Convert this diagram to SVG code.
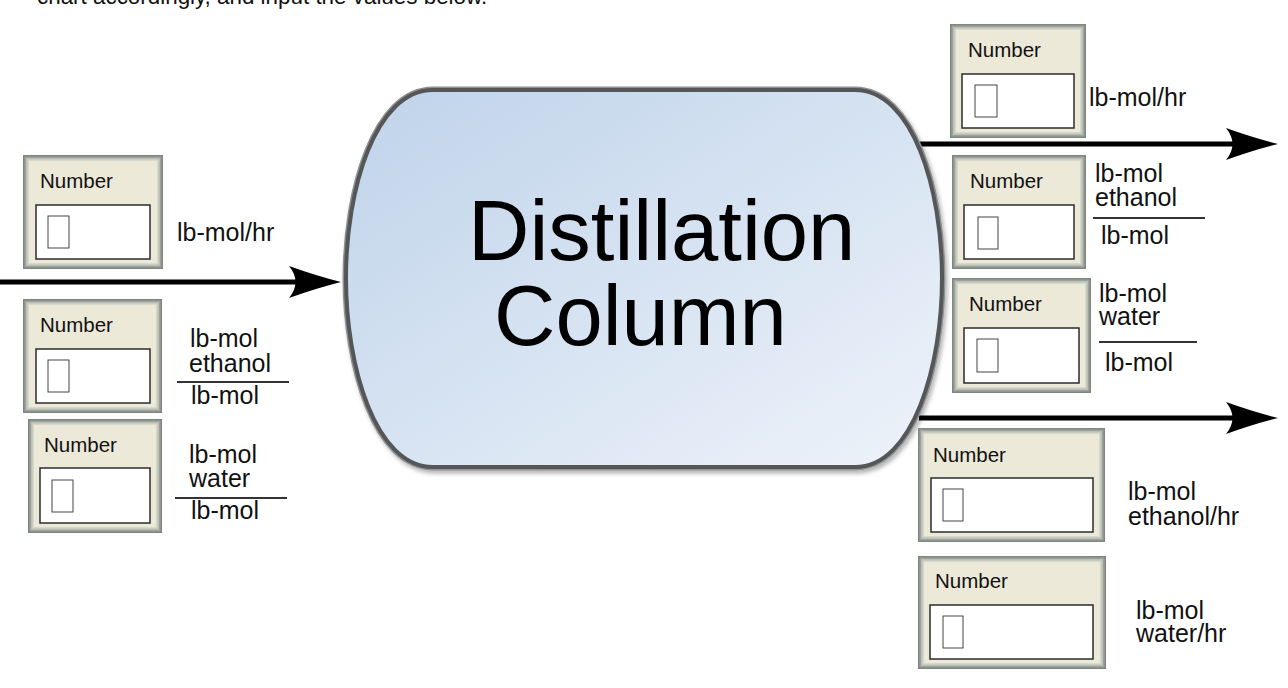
<svg xmlns="http://www.w3.org/2000/svg" width="1288" height="688" viewBox="0 0 1288 688">
  <style>
    text { font-family: "Liberation Sans", Arial, sans-serif; fill: #111; }
    .hdr { font-size: 22.4px; }
    .num { font-size: 20.5px; }
    .unit { font-size: 25px; }
    .big { font-size: 85px; fill: #000; }
    .f0 { fill: #7f867f; }
    .f1 { fill: #9ca39a; }
    .f2 { fill: #b9bfb5; }
    .f3 { fill: #d6d8cb; }
    .bg { fill: #ece9d8; }
    .inp { fill: #fff; stroke: #2b2b2b; stroke-width: 1.5; }
    .car { fill: #fff; stroke: #444; stroke-width: 1; }
    .bar { stroke: #333; stroke-width: 2; }
    .flow { stroke: #000; stroke-width: 5; fill: none; marker-end: url(#head); }
    .rim { fill: none; stroke: #8e9092; stroke-width: 7; }
    .edge { fill: url(#colfill); stroke: #555658; stroke-width: 4; }
  </style>
  <defs>
    <linearGradient id="colfill" x1="0" y1="0" x2="1" y2="1">
      <stop offset="0" stop-color="#bfd3ea"/>
      <stop offset="1" stop-color="#eef3fa"/>
    </linearGradient>
    <filter id="shadow" x="-5%" y="-5%" width="115%" height="115%">
      <feDropShadow dx="2" dy="3" stdDeviation="2" flood-color="#000" flood-opacity="0.3"/>
    </filter>
    <marker id="head" viewBox="0 0 52 32" refX="32" refY="16" markerWidth="52" markerHeight="32" markerUnits="userSpaceOnUse" orient="auto">
      <path d="M52,16 Q28,10 0,0 Q13,16 0,32 Q28,22 52,16 Z" fill="#000"/>
    </marker>
  </defs>

  <rect width="1288" height="688" fill="#fff"/>

  <text class="hdr" x="37" y="4">chart accordingly, and input the values below.</text>

  <g id="connectors">
    <line class="flow" x1="0" y1="282" x2="321" y2="282"/>
    <line class="flow" x1="919" y1="144" x2="1258" y2="144"/>
    <line class="flow" x1="919" y1="418" x2="1258" y2="418"/>
  </g>

  <g id="column">
    <g filter="url(#shadow)">
      <path class="rim" d="M433,90 L855,90 C913,90 942,190 942,278 C942,366 913,467 855,467 L433,467 C375,467 346,366 346,278 C346,190 375,90 433,90 Z"/>
    </g>
    <path class="edge" d="M433,90 L855,90 C913,90 942,190 942,278 C942,366 913,467 855,467 L433,467 C375,467 346,366 346,278 C346,190 375,90 433,90 Z"/>
    <text class="big"><tspan x="468" y="260">Distillation</tspan><tspan x="494" y="345">Column</tspan></text>
  </g>

  <g id="in-flow">
    <rect class="f0" x="23" y="155" width="140" height="114"/>
    <rect class="f1" x="24.5" y="156.5" width="137" height="111"/>
    <rect class="f2" x="26" y="158" width="134" height="108"/>
    <rect class="f3" x="27.5" y="159.5" width="131" height="105"/>
    <rect class="bg" x="29" y="161" width="128" height="102"/>
    <text class="num" x="40" y="188">Number</text>
    <rect class="inp" x="36" y="205" width="114" height="54"/>
    <rect class="car" x="48" y="216" width="21" height="32"/>
    <text class="unit" x="177" y="241">lb-mol/hr</text>
  </g>

  <g id="in-ethanol">
    <rect class="f0" x="23" y="299" width="139" height="114"/>
    <rect class="f1" x="24.5" y="300.5" width="136" height="111"/>
    <rect class="f2" x="26" y="302" width="133" height="108"/>
    <rect class="f3" x="27.5" y="303.5" width="130" height="105"/>
    <rect class="bg" x="29" y="305" width="127" height="102"/>
    <text class="num" x="40" y="332">Number</text>
    <rect class="inp" x="36" y="349" width="114" height="54"/>
    <rect class="car" x="48" y="360" width="21" height="32"/>
    <text class="unit"><tspan x="190" y="347">lb-mol</tspan><tspan x="189" y="372">ethanol</tspan><tspan x="191" y="404">lb-mol</tspan></text>
    <line class="bar" x1="177" y1="382" x2="289" y2="382"/>
  </g>

  <g id="in-water">
    <rect class="f0" x="28" y="419" width="134" height="114"/>
    <rect class="f1" x="29.5" y="420.5" width="131" height="111"/>
    <rect class="f2" x="31" y="422" width="128" height="108"/>
    <rect class="f3" x="32.5" y="423.5" width="125" height="105"/>
    <rect class="bg" x="34" y="425" width="122" height="102"/>
    <text class="num" x="44" y="452">Number</text>
    <rect class="inp" x="40" y="468" width="110" height="55"/>
    <rect class="car" x="52" y="480" width="21" height="32"/>
    <text class="unit"><tspan x="189" y="463">lb-mol</tspan><tspan x="189" y="487">water</tspan><tspan x="191" y="519">lb-mol</tspan></text>
    <line class="bar" x1="175" y1="498" x2="287" y2="498"/>
  </g>

  <g id="top-flow">
    <rect class="f0" x="950" y="24" width="136" height="114"/>
    <rect class="f1" x="951.5" y="25.5" width="133" height="111"/>
    <rect class="f2" x="953" y="27" width="130" height="108"/>
    <rect class="f3" x="954.5" y="28.5" width="127" height="105"/>
    <rect class="bg" x="956" y="30" width="124" height="102"/>
    <text class="num" x="968" y="57">Number</text>
    <rect class="inp" x="962" y="74" width="112" height="54"/>
    <rect class="car" x="975" y="85" width="22" height="32"/>
    <text class="unit" x="1089" y="106">lb-mol/hr</text>
  </g>

  <g id="top-ethanol">
    <rect class="f0" x="952" y="155" width="134" height="114"/>
    <rect class="f1" x="953.5" y="156.5" width="131" height="111"/>
    <rect class="f2" x="955" y="158" width="128" height="108"/>
    <rect class="f3" x="956.5" y="159.5" width="125" height="105"/>
    <rect class="bg" x="958" y="161" width="122" height="102"/>
    <text class="num" x="970" y="188">Number</text>
    <rect class="inp" x="964" y="205" width="110" height="54"/>
    <rect class="car" x="978" y="217" width="20" height="32"/>
    <text class="unit"><tspan x="1095" y="182">lb-mol</tspan><tspan x="1095" y="206">ethanol</tspan><tspan x="1101" y="244">lb-mol</tspan></text>
    <line class="bar" x1="1093" y1="218" x2="1205" y2="218"/>
  </g>

  <g id="top-water">
    <rect class="f0" x="952" y="278" width="139" height="115"/>
    <rect class="f1" x="953.5" y="279.5" width="136" height="112"/>
    <rect class="f2" x="955" y="281" width="133" height="109"/>
    <rect class="f3" x="956.5" y="282.5" width="130" height="106"/>
    <rect class="bg" x="958" y="284" width="127" height="103"/>
    <text class="num" x="969" y="311">Number</text>
    <rect class="inp" x="964" y="328" width="115" height="55"/>
    <rect class="car" x="977" y="339" width="21" height="33"/>
    <text class="unit"><tspan x="1099" y="302">lb-mol</tspan><tspan x="1099" y="325">water</tspan><tspan x="1105" y="371">lb-mol</tspan></text>
    <line class="bar" x1="1099" y1="342" x2="1197" y2="342"/>
  </g>

  <g id="bottom-ethanol">
    <rect class="f0" x="918" y="428" width="187" height="114"/>
    <rect class="f1" x="919.5" y="429.5" width="184" height="111"/>
    <rect class="f2" x="921" y="431" width="181" height="108"/>
    <rect class="f3" x="922.5" y="432.5" width="178" height="105"/>
    <rect class="bg" x="924" y="434" width="175" height="102"/>
    <text class="num" x="933" y="462">Number</text>
    <rect class="inp" x="931" y="478" width="162" height="54"/>
    <rect class="car" x="943" y="489" width="20" height="32"/>
    <text class="unit"><tspan x="1128" y="500">lb-mol</tspan><tspan x="1128" y="525">ethanol/hr</tspan></text>
  </g>

  <g id="bottom-water">
    <rect class="f0" x="918" y="556" width="188" height="113"/>
    <rect class="f1" x="919.5" y="557.5" width="185" height="110"/>
    <rect class="f2" x="921" y="559" width="182" height="107"/>
    <rect class="f3" x="922.5" y="560.5" width="179" height="104"/>
    <rect class="bg" x="924" y="562" width="176" height="101"/>
    <text class="num" x="935" y="588">Number</text>
    <rect class="inp" x="930" y="605" width="163" height="54"/>
    <rect class="car" x="943" y="616" width="20" height="32"/>
    <text class="unit"><tspan x="1136" y="619">lb-mol</tspan><tspan x="1136" y="642">water/hr</tspan></text>
  </g>
</svg>
